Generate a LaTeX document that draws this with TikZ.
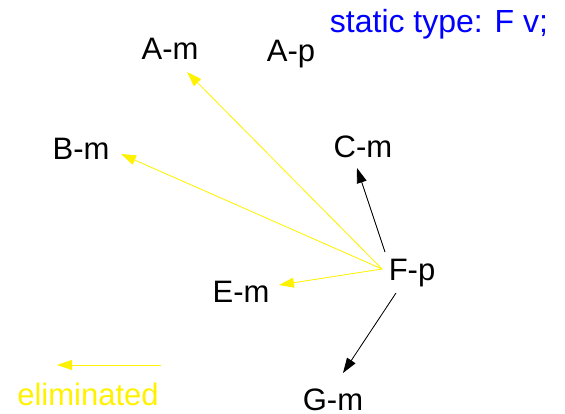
\documentclass[tikz,border=0pt]{standalone}
\usepackage{fontspec}
\setmainfont{Liberation Sans}
\usetikzlibrary{arrows.meta,calc}
\begin{document}
\begin{tikzpicture}[x=1pt,y=-1pt,
  lbl/.style={anchor=base,inner sep=0pt,font=\fontsize{31}{37}\selectfont},
  elim/.style={draw=yellow,line width=0.8pt,-{Triangle[length=15pt,width=10pt]},fill=yellow},
  kept/.style={draw=black,line width=0.8pt,-{Triangle[length=15pt,width=10pt]},fill=black}]
\useasboundingbox (0,0) rectangle (565,414);
\node[lbl,text=blue,font=\fontsize{32}{38}\selectfont] (st) at (439,33) {static type: F v;};
\node[lbl] (Am) at (170,60) {A-m};
\node[lbl] (Ap) at (291,62) {A-p};
\node[lbl] (Bm) at (81,160) {B-m};
\node[lbl] (Cm) at (363,158) {C-m};
\node[lbl] (Em) at (241,302) {E-m};
\node[lbl] (Fp) at (412,280) {F-p};
\node[lbl] (Gm) at (333,410) {G-m};
\node[lbl,text=yellow] (el) at (88,405) {eliminated};
\coordinate (L1) at (161,365);
\coordinate (L2) at (57,365);
\draw[elim] ($(Fp.base)+(-30,-11)$) -- ($(Am.base)+(17,12)$);
\draw[elim] ($(Fp.base)+(-30,-11)$) -- ($(Bm.base)+(40,-6)$);
\draw[elim] ($(Fp.base)+(-30,-11)$) -- ($(Em.base)+(38,-17)$);
\draw[kept] ($(Fp.base)+(-27,-28)$) -- ($(Cm.base)+(-6,10)$);
\draw[kept] ($(Fp.base)+(-16,13)$) -- ($(Gm.base)+(10,-37)$);
\draw[elim] (L1) -- (L2);
\end{tikzpicture}
\end{document}
